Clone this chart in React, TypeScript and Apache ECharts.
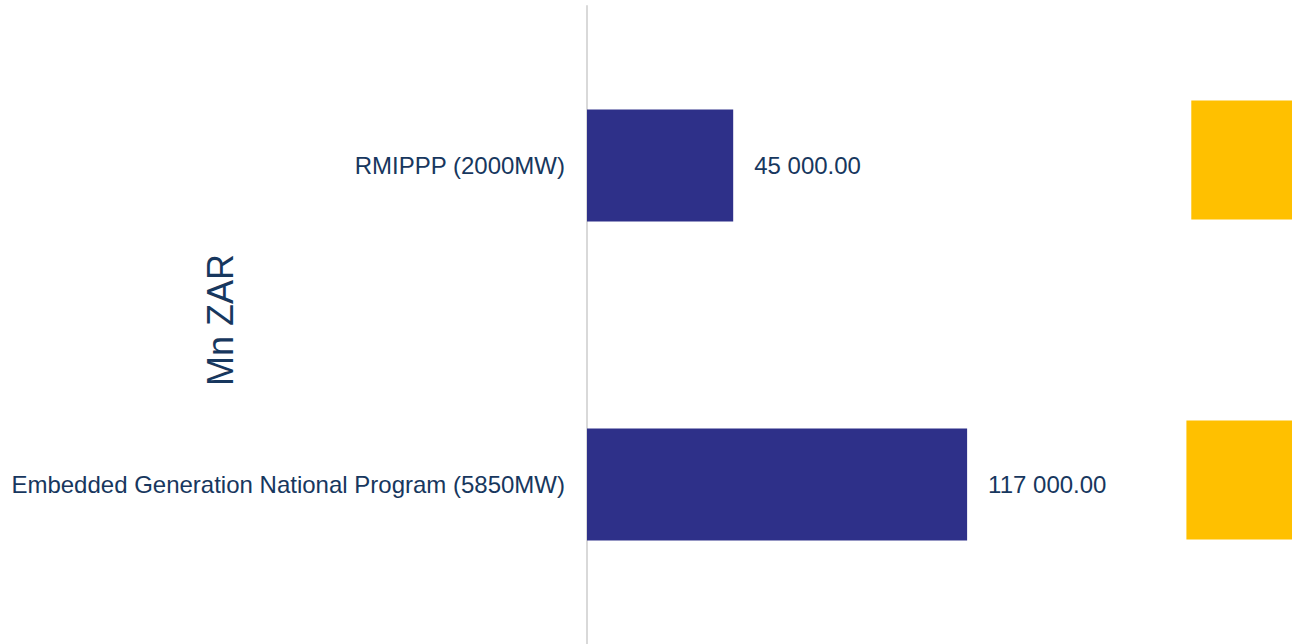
import React, { useEffect, useRef } from "react";
import * as echarts from "echarts";

const categories = ["Embedded Generation National Program (5850MW)", "RMIPPP (2000MW)"];
const costValues = [117000, 45000];
const yellowStart = [184500, 186000];
const yellowLength = [60000, 60000];
const axisName = "Mn ZAR";

const fmt = (v: number) => {
  const [i, d] = v.toFixed(2).split(".");
  return i.replace(/\B(?=(\d{3})+(?!\d))/g, " ") + "." + d;
};

export default function App() {
  const ref = useRef<HTMLDivElement>(null);
  useEffect(() => {
    document.body.style.margin = "0";
    const chart = echarts.init(ref.current!, null, { renderer: "svg" });
    const textColor = "#17375E";
    const font = "Liberation Sans, Arial, sans-serif";
    chart.setOption({
      animation: false,
      grid: [
        { left: 587, right: 0, top: 6, bottom: 0 },
        { left: 587, right: 0, top: 0, bottom: 4 },
      ],
      xAxis: [
        { type: "value", gridIndex: 0, min: 0, max: 217000, show: false },
        { type: "value", gridIndex: 1, min: 0, max: 217000, show: false },
      ],
      yAxis: [
        {
          type: "category",
          gridIndex: 0,
          data: categories,
          axisLine: { show: true, lineStyle: { color: "#D9D9D9", width: 2 } },
          axisTick: { show: false },
          axisLabel: { color: textColor, fontSize: 24, fontFamily: font, margin: 22 },
          splitLine: { show: false },
        },
        {
          type: "category",
          gridIndex: 1,
          data: categories,
          show: false,
        },
      ],
      graphic: [
        {
          type: "text",
          x: 220,
          y: 320,
          rotation: Math.PI / 2,
          style: {
            text: axisName,
            fill: textColor,
            fontSize: 36,
            fontFamily: font,
            textAlign: "center",
            textVerticalAlign: "middle",
          },
        },
      ],
      series: [
        {
          type: "bar",
          xAxisIndex: 0,
          yAxisIndex: 0,
          data: costValues,
          barWidth: 112,
          itemStyle: { color: "#2E3089" },
          label: {
            show: true,
            position: "right",
            distance: 21,
            color: textColor,
            fontSize: 24,
            fontFamily: font,
            formatter: (p: any) => fmt(p.value),
          },
        },
        {
          type: "bar",
          xAxisIndex: 1,
          yAxisIndex: 1,
          stack: "y",
          data: yellowStart,
          barWidth: 119,
          itemStyle: { color: "transparent" },
          silent: true,
        },
        {
          type: "bar",
          xAxisIndex: 1,
          yAxisIndex: 1,
          stack: "y",
          data: yellowLength,
          barWidth: 119,
          itemStyle: { color: "#FFC000" },
        },
      ],
    });
    return () => chart.dispose();
  }, []);
  return <div ref={ref} style={{ width: 1292, height: 644 }} />;
}
